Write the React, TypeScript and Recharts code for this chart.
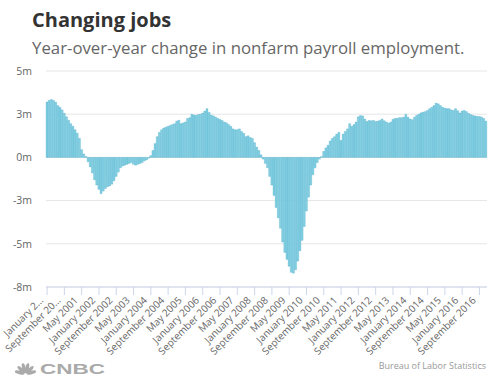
import React from 'react';
import { BarChart, Bar, XAxis, YAxis, CartesianGrid } from 'recharts';

// year-over-year change in nonfarm payrolls, millions, one array per year
const change2000 = [3.2, 3.3, 3.35, 3.3, 3.2, 3.0, 2.9, 2.75, 2.55, 2.35, 2.15, 1.95];
const change2001 = [1.8, 1.6, 1.4, 1.1, 0.45, 0.2, 0.05, -0.25, -0.55, -0.9, -1.3, -1.6];
const change2002 = [-1.85, -2.1, -1.95, -1.8, -1.7, -1.65, -1.55, -1.35, -1.1, -0.85, -0.6, -0.5];
const change2003 = [-0.45, -0.4, -0.35, -0.3, -0.4, -0.45, -0.4, -0.35, -0.3, -0.2, -0.15, -0.05];
const change2004 = [0.1, 0.4, 0.8, 1.2, 1.45, 1.6, 1.7, 1.75, 1.8, 1.85, 1.9, 1.95];
const change2005 = [2.1, 2.15, 1.95, 2.0, 2.05, 2.25, 2.3, 2.5, 2.45, 2.43, 2.48, 2.5];
const change2006 = [2.57, 2.68, 2.82, 2.6, 2.45, 2.4, 2.33, 2.26, 2.2, 2.14, 2.05, 2.0];
const change2007 = [1.9, 1.8, 1.65, 1.6, 1.6, 1.65, 1.5, 1.4, 1.2, 1.25, 1.15, 1.1];
const change2008 = [0.85, 0.6, 0.4, 0.15, -0.1, -0.35, -0.6, -1.1, -1.6, -2.2, -2.9, -3.5];
const change2009 = [-4.1, -4.9, -5.5, -5.9, -6.3, -6.65, -6.7, -6.5, -6.0, -5.4, -4.8, -4.0];
const change2010 = [-3.1, -2.3, -1.6, -1.0, -0.6, -0.3, -0.1, 0.05, 0.35, 0.55, 0.7, 0.95];
const change2011 = [1.1, 1.2, 1.35, 1.45, 0.98, 1.35, 1.5, 1.65, 1.95, 1.8, 1.9, 2.05];
const change2012 = [2.35, 2.42, 2.4, 2.22, 2.08, 2.14, 2.12, 2.14, 2.08, 2.1, 2.14, 2.22];
const change2013 = [2.12, 2.05, 1.98, 2.04, 2.2, 2.25, 2.26, 2.3, 2.3, 2.33, 2.49, 2.33];
const change2014 = [2.22, 2.18, 2.33, 2.43, 2.5, 2.58, 2.62, 2.65, 2.72, 2.82, 2.9, 3.0];
const change2015 = [3.14, 3.1, 3.0, 2.9, 2.85, 2.82, 2.82, 2.75, 2.72, 2.82, 2.7, 2.57];
const change2016 = [2.68, 2.72, 2.65, 2.55, 2.48, 2.43, 2.4, 2.37, 2.37, 2.33, 2.26, 2.1];

const years = [2000, 2001, 2002, 2003, 2004, 2005, 2006, 2007, 2008, 2009, 2010, 2011, 2012, 2013, 2014, 2015, 2016];
const yearly = [
    change2000, change2001, change2002, change2003, change2004, change2005, change2006, change2007, change2008,
    change2009, change2010, change2011, change2012, change2013, change2014, change2015, change2016,
];
const monthNames = ['January', 'February', 'March', 'April', 'May', 'June', 'July', 'August',
    'September', 'October', 'November', 'December'];

const yTicks = [-7.5, -5, -2.5, 0, 2.5, 5];
// first two labels are cut short in the original
const shortLabels: Record<string, string> = {
    'January 2000': 'January 2…',
    'September 2000': 'September 20…',
};

const data = years.flatMap((yr, yi) =>
    yearly[yi].map((v, m) => ({ month: `${monthNames[m]} ${yr}`, change: v })));

const font = '"Open Sans", sans-serif';

const fmtMillions = (v: number) => `${v < 0 ? '-' : ''}${Math.round(Math.abs(v))}m`;

const MonthTick = (props: any) => {
    const { x, y, payload } = props;
    const label = shortLabels[payload.value] ?? payload.value;
    return (
        <g transform={`translate(${x - 3},${y + 4})`}>
            <text textAnchor="end" fontSize={10} fill="#666" fontFamily={font} transform="rotate(-45)">
                {label}
            </text>
        </g>
    );
};

const Peacock = () => {
    const angles = [-75, -45, -15, 15, 45, 75];
    return (
        <g transform="translate(25.5,374)">
            {angles.map((a) => (
                <ellipse key={a} cx={0} cy={-6} rx={1.8} ry={5} fill="#aaa" transform={`rotate(${a})`} />
            ))}
        </g>
    );
};

export default function App() {
    return (
        <div style={{ position: 'relative', width: 500, height: 383, background: '#fff', fontFamily: font }}>
            <style>{'body{margin:0}'}</style>
            <BarChart
                width={500}
                height={383}
                data={data}
                barCategoryGap={0}
                margin={{ top: 71, right: 13, bottom: 0, left: 0 }}
            >
                <CartesianGrid vertical={false} stroke="#e6e6e6" />
                <XAxis
                    dataKey="month"
                    interval={7}
                    height={96}
                    tickSize={8}
                    tickMargin={2}
                    tickLine={{ stroke: '#ccd6eb' }}
                    axisLine={{ stroke: '#ccd6eb' }}
                    tick={<MonthTick />}
                />
                <YAxis
                    width={46}
                    domain={[-7.5, 5]}
                    ticks={yTicks}
                    interval={0}
                    axisLine={false}
                    tickLine={false}
                    tickSize={0}
                    tickMargin={14}
                    tickFormatter={fmtMillions}
                    tick={{ fontSize: 10.5, fill: '#666', fontFamily: font }}
                />
                <Bar
                    dataKey="change"
                    fill="#86d0e2"
                    stroke="#2a9fc4"
                    strokeWidth={0.25}
                    isAnimationActive={false}
                />
            </BarChart>
            <svg width={500} height={383} style={{ position: 'absolute', left: 0, top: 0, pointerEvents: 'none' }}>
                <text x={32} y={27} fontSize={20} fontWeight={700} fill="#333" fontFamily={font}>
                    Changing jobs
                </text>
                <text x={32} y={54} fontSize={16.8} fill="#666" fontFamily={font}>
                    Year-over-year change in nonfarm payroll employment.
                </text>
                <Peacock />
                <text x={40} y={374} fontSize={15} fontWeight={700} fill="#aaa" fontFamily='"Liberation Sans", Arial, sans-serif'
                    textLength={65} lengthAdjust="spacingAndGlyphs">
                    CNBC
                </text>
                <text x={486} y={369} fontSize={9} fill="#999" textAnchor="end" fontFamily={font}>
                    Bureau of Labor Statistics
                </text>
            </svg>
        </div>
    );
}
